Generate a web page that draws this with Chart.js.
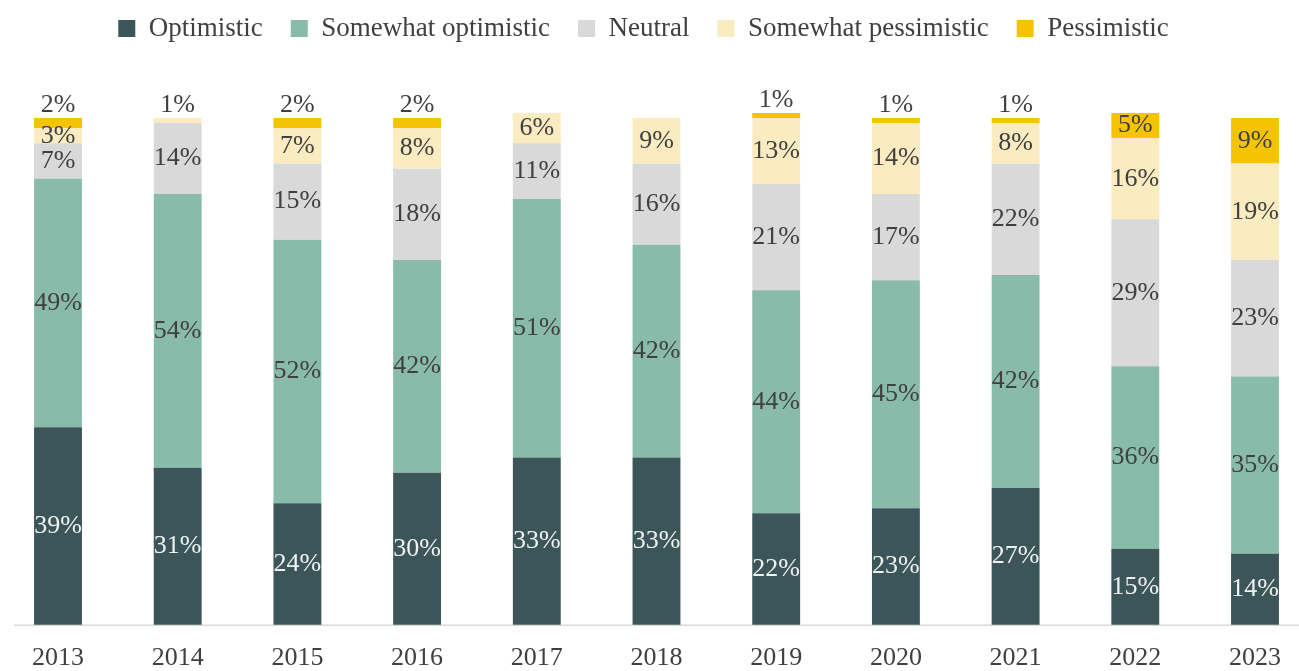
<!DOCTYPE html>
<html>
<head>
<meta charset="utf-8">
<script src="https://cdn.jsdelivr.net/npm/chart.js@4.4.1/dist/chart.umd.min.js"></script>
<style>
  html, body { margin: 0; padding: 0; background: #fff; }
  #wrap { width: 1299px; height: 671px; }
</style>
</head>
<body>
<div id="wrap"><canvas id="chart"></canvas></div>
<script>
const years = ['2013', '2014', '2015', '2016', '2017', '2018', '2019', '2020', '2021', '2022', '2023'];
const optimistic = [39, 31, 24, 30, 33, 33, 22, 23, 27, 15, 14];
const somewhatOptimistic = [49, 54, 52, 42, 51, 42, 44, 45, 42, 36, 35];
const neutral = [7, 14, 15, 18, 11, 16, 21, 17, 22, 29, 23];
const somewhatPessimistic = [3, 1, 7, 8, 6, 9, 13, 14, 8, 16, 19];
const pessimistic = [2, 0, 2, 2, 0, 0, 1, 1, 1, 5, 9];

const fontFamily = '"Liberation Serif", "DejaVu Serif", serif';
const fontSize = 26;
const textColor = '#404040';

// percent labels inside each segment, tiny top segments get theirs above the bar
const segmentLabels = {
    id: 'segmentLabels',
    afterDatasetsDraw(chart) {
        const ctx = chart.ctx;
        const count = chart.data.labels.length;
        ctx.save();
        ctx.font = fontSize + 'px ' + fontFamily;
        ctx.textAlign = 'center';
        ctx.textBaseline = 'middle';
        for (let i = 0; i < count; i++) {
            let top = -1;
            chart.data.datasets.forEach((ds, d) => { if (ds.data[i] > 0) top = d; });
            chart.data.datasets.forEach((ds, d) => {
                const v = ds.data[i];
                if (!v) return;
                const bar = chart.getDatasetMeta(d).data[i];
                let y = (bar.y + bar.base) / 2;
                if (d === top && v <= 2) y = bar.y - 13;
                ctx.fillStyle = d === 0 ? '#eef2f2' : textColor;
                ctx.fillText(v + '%', bar.x, y);
            });
        }
        ctx.restore();
    }
};

// base line running across the whole width
const baseLine = {
    id: 'baseLine',
    beforeDatasetsDraw(chart) {
        const ctx = chart.ctx;
        const y = chart.chartArea.bottom + 0.5;
        ctx.save();
        ctx.strokeStyle = '#d9d9d9';
        ctx.lineWidth = 1.5;
        ctx.beginPath();
        ctx.moveTo(14, y);
        ctx.lineTo(chart.width, y);
        ctx.stroke();
        ctx.restore();
    }
};

// room between legend and bars, and nudge the legend a bit left
const legendSpace = {
    id: 'legendSpace',
    beforeInit(chart) {
        const fit = chart.legend.fit;
        chart.legend.fit = function () {
            fit.bind(chart.legend)();
            this.height = 131;
        };
    },
    afterLayout(chart) {
        chart.legend.left -= 15;
        chart.legend.right -= 15;
    }
};

function makeSet(label, data, color) {
    return {
        label: label,
        data: data,
        backgroundColor: color,
        borderWidth: 0,
        categoryPercentage: 0.8,
        barPercentage: 0.5,
        clip: false
    };
}

const config = {
    type: 'bar',
    data: {
        labels: years,
        datasets: [
            makeSet('Optimistic', optimistic, '#3b5558'),
            makeSet('Somewhat optimistic', somewhatOptimistic, '#88bba9'),
            makeSet('Neutral', neutral, '#d9d9d9'),
            makeSet('Somewhat pessimistic', somewhatPessimistic, '#faebc0'),
            makeSet('Pessimistic', pessimistic, '#f5c400')
        ]
    },
    options: {
        responsive: true,
        maintainAspectRatio: false,
        animation: false,
        layout: {
            padding: { top: -13, left: 58, right: 40, bottom: -21 }
        },
        plugins: {
            legend: {
                position: 'top',
                labels: {
                    boxWidth: 17,
                    boxHeight: 17,
                    padding: 28,
                    color: textColor,
                    font: { family: fontFamily, size: 27 }
                }
            },
            tooltip: { enabled: false }
        },
        scales: {
            x: {
                stacked: true,
                offset: false,
                grid: { display: false, drawTicks: false },
                border: { display: false },
                ticks: {
                    color: textColor,
                    padding: 18,
                    maxRotation: 0,
                    font: { family: fontFamily, size: fontSize }
                }
            },
            y: {
                stacked: true,
                display: false,
                min: 0,
                max: 100
            }
        }
    },
    plugins: [legendSpace, baseLine, segmentLabels]
};

new Chart(document.getElementById('chart'), config);
</script>
</body>
</html>
